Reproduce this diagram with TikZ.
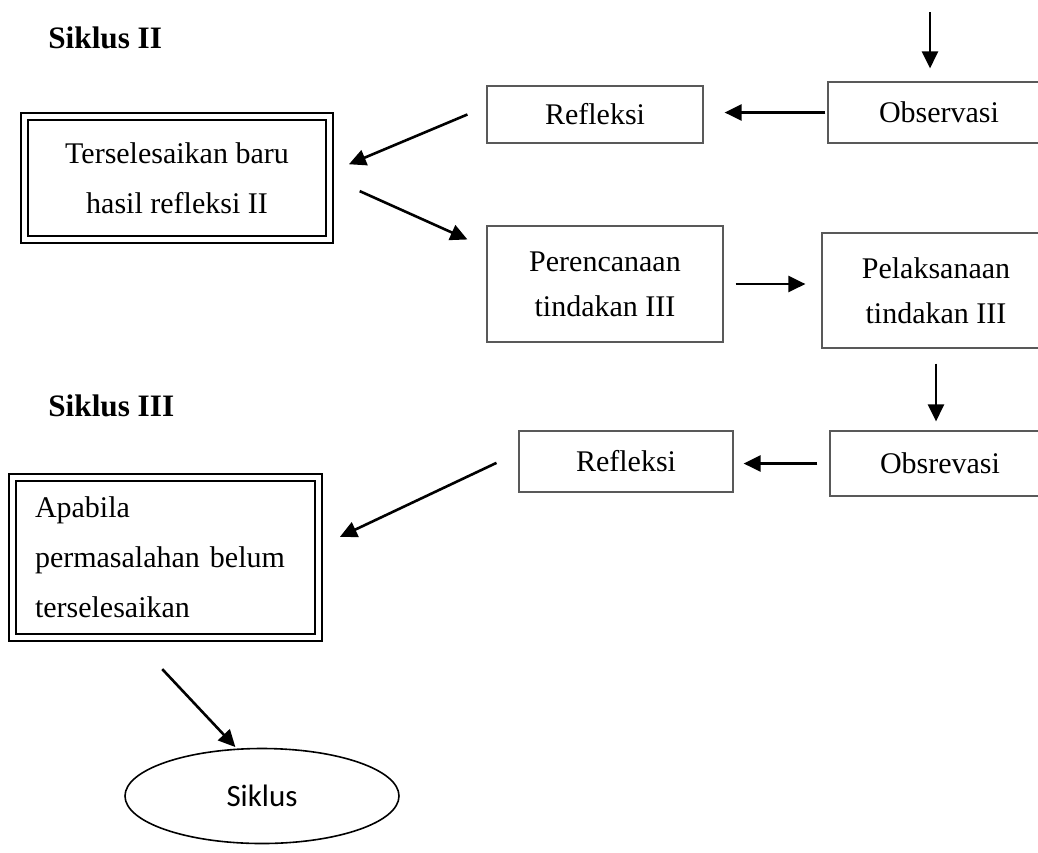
\documentclass[tikz,border=0pt]{standalone}
\usepackage{fontspec}
\setmainfont{Liberation Serif}
\newfontfamily\calibri{Carlito}
\usetikzlibrary{arrows.meta}
\usetikzlibrary{shapes.geometric}
\usetikzlibrary{positioning}

\begin{document}
\begin{tikzpicture}[x=0.5pt, y=-0.5pt, >={Triangle[length=8.5pt,width=8pt]},
box/.style={draw=black!65, line width=0.6pt, inner sep=0pt, align=center, font=\fontsize{15}{22.5}\selectfont},
dbox/.style={draw, line width=1pt, double, double distance=2.5pt, inner sep=0pt, font=\fontsize{15}{25}\selectfont},
arr/.style={->, line width=1.3pt},
siklus/.style={anchor=base west, inner sep=0pt, font=\fontsize{15.6}{18}\selectfont\bfseries}]
\clip (0,0) rectangle (1038,852);

% titles
\node [siklus] (s2) at (48,48) {Siklus II};
\node [siklus] (s3) at (48,416) {Siklus III};

% first row
\node [box, minimum width=111pt, minimum height=30.5pt] (obs1) at (939,112.5) {Observasi};
\node [box, minimum width=108pt, minimum height=28.5pt] (ref1) at (595,114.5) {Refleksi};
\node [dbox, minimum width=152.5pt, minimum height=61.5pt, align=center] (box1) at (177,178) {Terselesaikan baru\\hasil refleksi II};

% second row
\node [box, minimum width=118pt, minimum height=58pt] (per) at (605,284) {Perencanaan\\tindakan III};
\node [box, minimum width=114pt, minimum height=57.5pt] (pel) at (936,290.5) {Pelaksanaan\\tindakan III};

% third row
\node [box, minimum width=110pt, minimum height=32.5pt] (obs2) at (940,463.5) {Obsrevasi};
\node [box, minimum width=107pt, minimum height=30.5pt] (ref2) at (626,461.5) {Refleksi};
\node [dbox, minimum width=153pt, minimum height=80pt, text width=130.5pt, align=left] (box2) at (165.5,557.5) {Apabila\\permasalahan belum\\terselesaikan};

% end
\node [draw, ellipse, line width=0.8pt, minimum width=137pt, minimum height=47.5pt, inner sep=0pt, font=\calibri\fontsize{15.5}{18}\selectfont] (ell) at (262,796) {Siklus};

% arrows
\coordinate (top) at (930,12);
\draw [arr, shorten >=6.5pt] (top) -- (top |- obs1.north);
\draw [arr, shorten <=1pt, shorten >=10.5pt] (obs1.west) -- (obs1.west -| ref1.east);
\draw [arr, shorten <=10.3pt, shorten >=10pt] ([yshift=4pt]ref1.west) -- ([yshift=3pt]box1.east);
\draw [arr, shorten <=16pt, shorten >=10.4pt] (box1.east) -- ([yshift=18pt]per.west);
\draw [arr, shorten <=6pt, shorten >=8pt] (per.east) -- (per.east -| pel.west);
\draw [arr, shorten <=7.5pt, shorten >=4.5pt] (pel.south) -- (pel.south |- obs2.north);
\draw [arr, shorten <=6pt, shorten >=5pt] (obs2.west) -- (obs2.west -| ref2.east);
\draw [arr, shorten <=12.1pt, shorten >=11.3pt] ([yshift=4.5pt]ref2.west) -- ([yshift=5.5pt]box2.east);
\draw [arr, shorten <=21pt, shorten >=1pt] ([xshift=-16pt]box2.south) -- (ell.118);

\end{tikzpicture}
\end{document}
